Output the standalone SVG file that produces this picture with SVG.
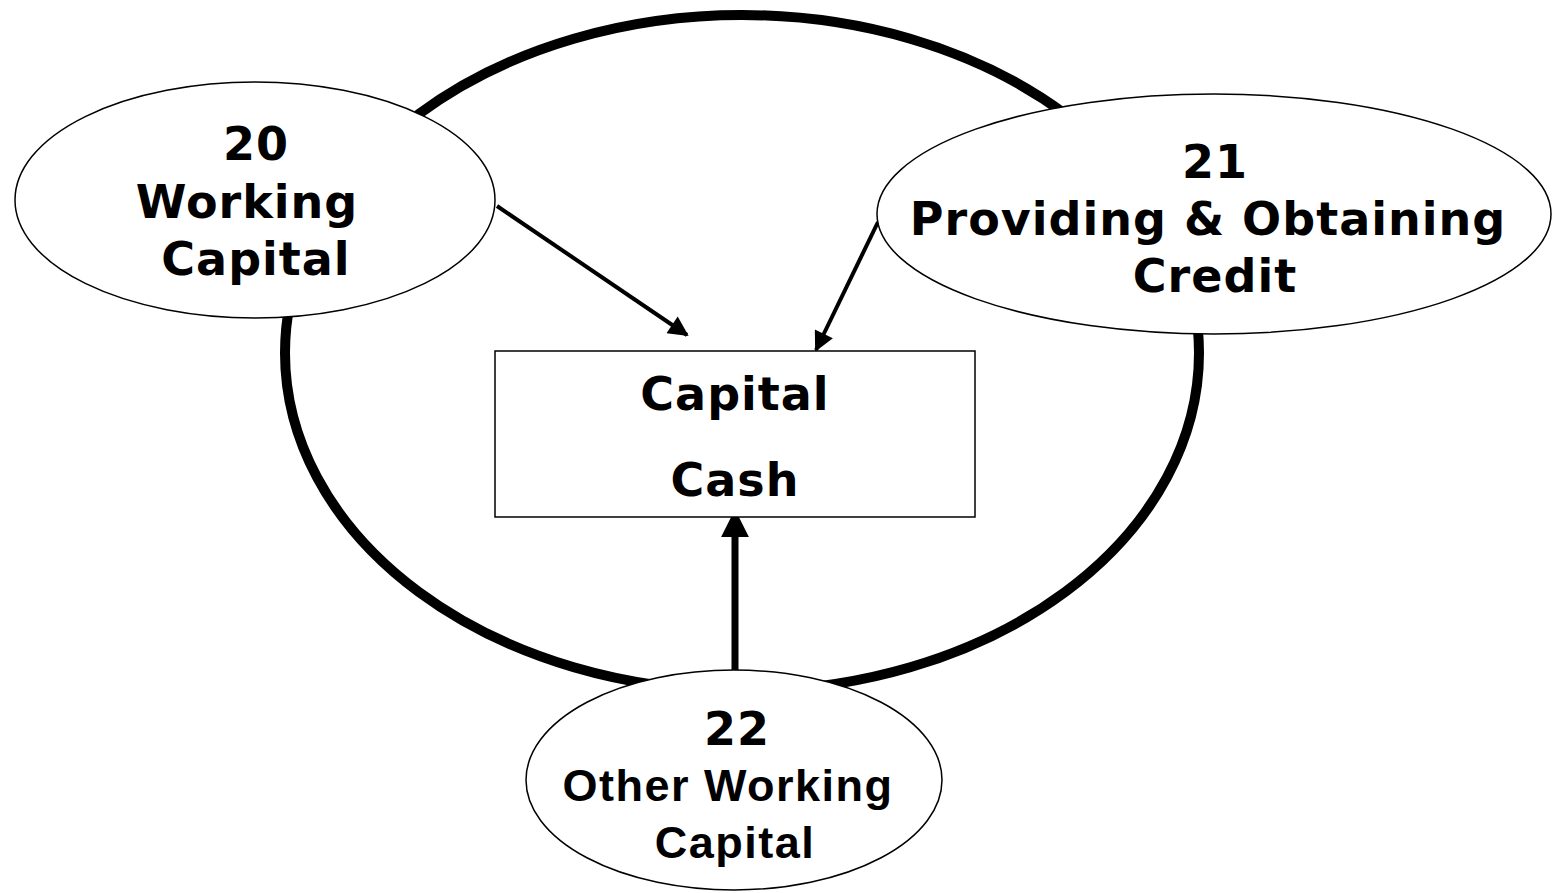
<svg xmlns="http://www.w3.org/2000/svg" width="1560" height="893" viewBox="0 0 1560 893">
<defs>
<style>
.node{fill:#fff;stroke:#000;stroke-width:1.5}
.t{font-family:"DejaVu Sans",Verdana,sans-serif;font-weight:bold;font-size:46px;letter-spacing:1px;text-anchor:middle;fill:#000}
.a{font-family:"Liberation Sans",Arial,sans-serif;font-weight:bold;font-size:45px;letter-spacing:1.5px;text-anchor:middle;fill:#000}
.c{stroke:#000;fill:none}
</style>
<marker id="ah" viewBox="0 0 10 10" refX="9" refY="5" markerWidth="5.5" markerHeight="5" markerUnits="strokeWidth" orient="auto"><path d="M0,0 L10,5 L0,10 z" fill="#000"/></marker>
<marker id="ah2" viewBox="0 0 10 10" refX="9" refY="5" markerWidth="4" markerHeight="4" markerUnits="strokeWidth" orient="auto"><path d="M0,0 L10,5 L0,10 z" fill="#000"/></marker>
</defs>
<rect width="1560" height="893" fill="#fff"/>
<g id="cycle">
<ellipse cx="742" cy="353" rx="457" ry="338" fill="none" stroke="#000" stroke-width="10"/>
</g>
<g id="connectors">
<line class="c" x1="497" y1="206" x2="687" y2="335" stroke-width="4" marker-end="url(#ah)"/>
<line class="c" x1="878" y1="222" x2="816" y2="350" stroke-width="4" marker-end="url(#ah)"/>
<line class="c" x1="735" y1="670" x2="735" y2="512" stroke-width="7" marker-end="url(#ah2)"/>
</g>
<g id="node-cash">
<rect class="node" x="495" y="351" width="480" height="166"/>
<text class="t" x="735" y="410">Capital</text>
<text class="t" x="735" y="496">Cash</text>
</g>
<g id="node-20">
<ellipse class="node" cx="255" cy="200" rx="240" ry="118"/>
<text class="t" x="256" y="160">20</text>
<text class="t" x="247" y="218">Working</text>
<text class="t" x="256" y="275">Capital</text>
</g>
<g id="node-21">
<ellipse class="node" cx="1214" cy="214" rx="337" ry="120"/>
<text class="t" x="1215" y="178">21</text>
<text class="t" x="1208" y="235">Providing &amp; Obtaining</text>
<text class="t" x="1215" y="292">Credit</text>
</g>
<g id="node-22">
<ellipse class="node" cx="734" cy="780" rx="208" ry="110"/>
<text class="t" x="737" y="745">22</text>
<text class="a" x="728" y="801">Other Working</text>
<text class="a" x="735" y="858">Capital</text>
</g>
</svg>
